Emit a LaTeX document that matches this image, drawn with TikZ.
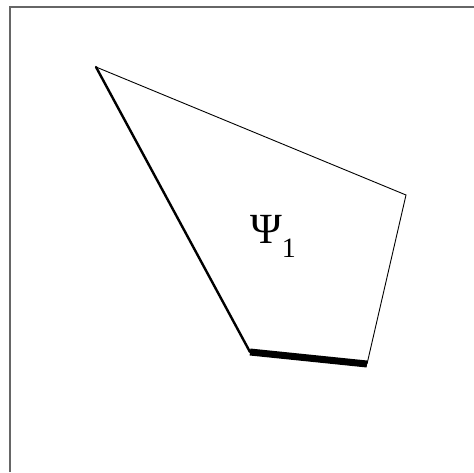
\documentclass[tikz,border=0pt]{standalone}
\usepackage{fontspec}
\setmainfont{Liberation Serif}
\usepackage{tikz}
\usetikzlibrary{positioning}

\begin{document}
\begin{tikzpicture}[x=1pt, y=-1pt,
  frame/.style={draw=black!60, line width=1.3pt},
  edgethin/.style={line width=0.9pt, line cap=round},
  edgemid/.style={line width=2.4pt, line cap=round},
  edgethick/.style={line width=7pt},
  lbl/.style={inner sep=0pt, anchor=base west, font=\fontsize{43}{45}\selectfont}]
  \useasboundingbox (0,0) rectangle (474,472);
  % frame (left and top only)
  \coordinate (fb) at (10,472);
  \coordinate (fc) at (10,7);
  \coordinate (fr) at (474,7);
  \draw[frame] (fb) -- (fc) -- (fr);
  % vertices
  \coordinate (pA) at (96,67);
  \coordinate (pB) at (406,195);
  \coordinate (pC) at (367,364);
  \coordinate (pD) at (250,352);
  \draw[edgethin] (pA) -- (pB) -- (pC);
  \draw[edgemid] (pA) -- (pD);
  \draw[edgethick] (pD) -- (pC);
  \node[lbl] (psi) at (250,243) {Ψ\raisebox{-14pt}{\fontsize{28}{30}\selectfont 1}};
\end{tikzpicture}
\end{document}
